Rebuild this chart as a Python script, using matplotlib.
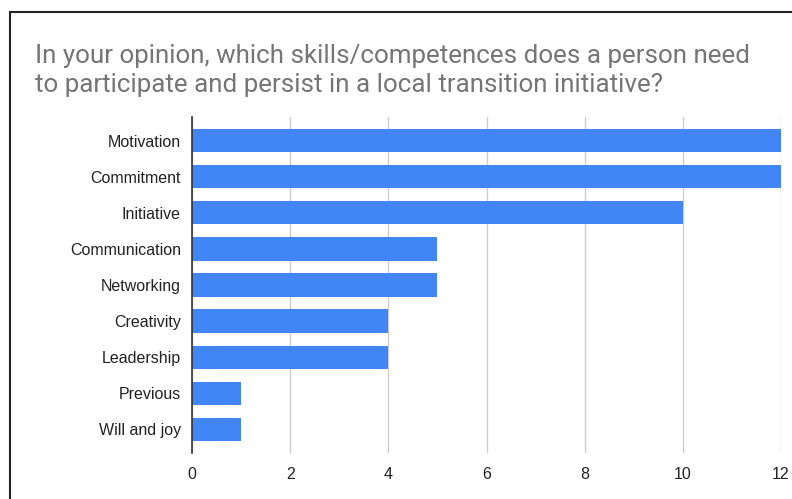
import matplotlib
matplotlib.use("Agg")
import matplotlib.pyplot as plt
from matplotlib.patches import Rectangle

categories = ["Motivation", "Commitment", "Initiative", "Communication",
              "Networking", "Creativity", "Leadership", "Previous", "Will and joy"]
counts = [12, 12, 10, 5, 5, 4, 4, 1, 1]
xticks = [0, 2, 4, 6, 8, 10, 12]
title = ("In your opinion, which skills/competences does a person need\n"
         "to participate and persist in a local transition initiative?")

W, H = 792, 499
fig = plt.figure(figsize=(W / 100, H / 100), dpi=100)
fig.patch.set_facecolor("white")

# outer frame of the chart card
fig.patches.append(Rectangle((10 / W, -0.1), 1.2, 1 - 12 / H + 0.1,
                             transform=fig.transFigure, fill=False,
                             edgecolor="#222222", linewidth=1.5))

ax = fig.add_axes([192 / W, 1 - 453 / H, (781 - 192) / W, (453 - 117) / H])
y = list(range(len(categories)))
ax.barh(y, counts, height=0.64, color="#4285F4", zorder=3)
ax.set_ylim(len(categories) - 1 + 0.665, -0.665)
ax.set_xlim(0, 12)
ax.set_yticks(y)
ax.set_yticklabels(categories, fontsize=11.5, family="Liberation Sans", color="#222222")
ax.set_xticks(xticks)
ax.set_xticklabels([str(t) for t in xticks], fontsize=11.5, family="Liberation Sans",
                   color="#222222")
ax.tick_params(axis="both", length=0, pad=8)
ax.tick_params(axis="x", pad=10)
ax.grid(axis="x", color="#cccccc", linewidth=1, zorder=0)
for s in ["top", "right", "bottom"]:
    ax.spines[s].set_visible(False)
ax.spines["left"].set_color("#333333")
ax.spines["left"].set_linewidth(1.2)
ax.spines["left"].set_zorder(4)

fig.text(35 / W, 1 - 44 / H, title, fontsize=18.7, family="Roboto", color="#757575",
         va="top", ha="left", linespacing=1.28)

fig.savefig("out.png", dpi=100)
